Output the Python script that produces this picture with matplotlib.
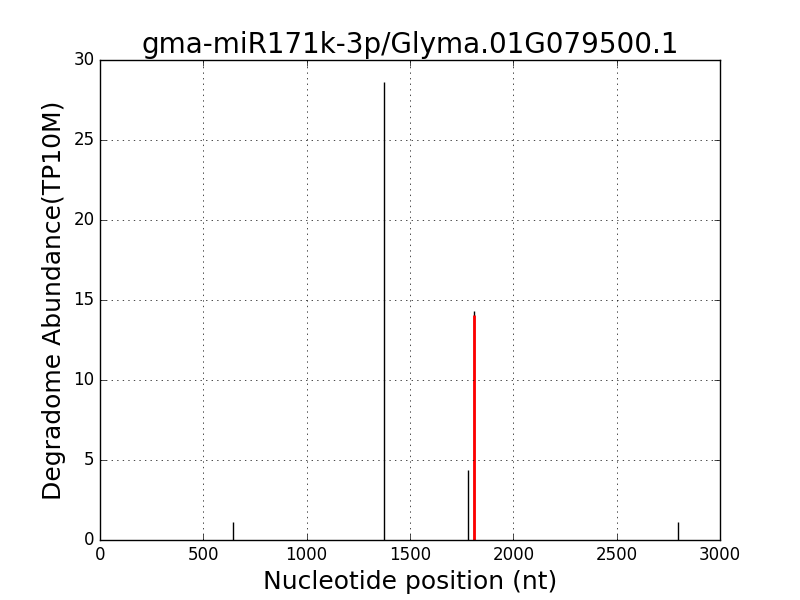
import matplotlib
matplotlib.use("Agg")
import matplotlib.pyplot as plt

# Degradome peaks (position in nt, abundance in TP10M)
positions = [643, 1374, 1780, 1810, 2796]
abundance = [1.1, 28.6, 4.4, 14.3, 1.1]

# Cleavage site highlighted in red
site_pos = [1810]
site_abund = [14.05]

plt.style.use("classic")
fig = plt.figure(figsize=(8, 6), dpi=100)
ax = fig.add_axes([0.125, 0.1, 0.775, 0.8])

ax.vlines(positions, 0, abundance, colors="black", linewidth=1)
ax.vlines(site_pos, 0, site_abund, colors="red", linewidth=2)

ax.set_xlim(0, 3000)
ax.set_ylim(0, 30)
ax.grid(True, linestyle=":", color="black")
ax.tick_params(labelsize=12)

ax.set_title("gma-miR171k-3p/Glyma.01G079500.1", fontsize=20)
ax.set_xlabel("Nucleotide position (nt)", fontsize=18)
ax.set_ylabel("Degradome Abundance(TP10M)", fontsize=18)

fig.savefig("out.png", dpi=100)
